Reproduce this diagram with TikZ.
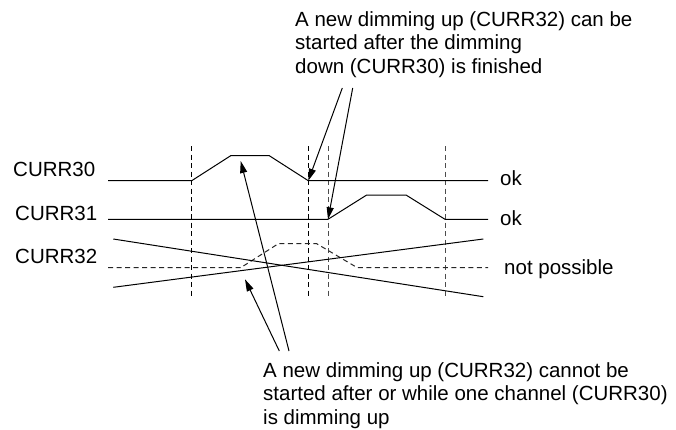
\documentclass[tikz,border=0pt]{standalone}
\usepackage{fontspec}
\setmainfont{Liberation Sans}
\usetikzlibrary{arrows.meta}
\begin{document}
\begin{tikzpicture}[x=1pt,y=-1pt,
  txt/.style={inner sep=0pt,anchor=base west,font=\fontsize{20.5}{23.5}\selectfont},
  sig/.style={line width=1pt,black},
  sigdash/.style={line width=1pt,black!85,dash pattern=on 5pt off 3.5pt},
  vmark/.style={line width=1pt,dash pattern=on 5pt off 3.5pt},
  pointer/.style={line width=1pt,-{Triangle[length=12pt,width=7pt]}}]
\useasboundingbox (0,0) rectangle (676,429);
% labels
\node[txt] (l30) at (13,176.7) {CURR30};
\node[txt] (l31) at (15,220.7) {CURR31};
\node[txt] (l32) at (15,263.3) {CURR32};
\node[txt] (ok1) at (500,185.7) {ok};
\node[txt] (ok2) at (500,225) {ok};
\node[txt] (np) at (504,274.3) {not possible};
\node[txt] (top) at (295,26) {\begin{tabular}[t]{@{}l@{}}A new dimming up (CURR32) can be\\started after the dimming\\down (CURR30) is finished\end{tabular}};
\node[txt] (bot) at (263,377) {\begin{tabular}[t]{@{}l@{}}A new dimming up (CURR32) cannot be\\started after or while one channel (CURR30)\\is dimming up\end{tabular}};
% vertical markers
\draw[vmark] (191.7,146) -- (191.7,297);
\draw[vmark] (308.3,146) -- (308.3,297);
\draw[vmark,black!70] (328,146) -- (328,297);
\draw[vmark,black!70] (445,146) -- (445,297);
% CURR30
\coordinate (e30) at (308.3,180.7);
\draw[sig] (108,180.7) -- (191.7,180.7) -- (230.7,155.7) -- (269.3,155.7) -- (e30) -- (488,180.7);
% CURR31
\coordinate (s31) at (328,219.3);
\draw[sig] (108,219.3) -- (s31) -- (366.7,195) -- (406,195) -- (445,219.3) -- (488,219.3);
% CURR32 dashed
\draw[sigdash] (108,267.7) -- (240.7,267.7) -- (278.3,243.7) -- (316.7,243.7) -- (357.3,267.7) -- (488,267.7);
% crossing lines
\draw[sig] (113.3,239) -- (483.3,296.7);
\draw[sig] (113.3,287.3) -- (483.3,239);
% arrows from top text
\coordinate (ta1) at (342.3,88);
\coordinate (ta2) at (352.7,88);
\draw[pointer] (ta1) -- (e30);
\draw[pointer] (ta2) -- (s31);
% arrows from bottom text
\coordinate (ba1) at (279.3,351);
\coordinate (ba2) at (289,351);
\coordinate (up30) at (240.7,161);
\coordinate (up32) at (245,279.3);
\draw[pointer] (ba1) -- (up32);
\draw[pointer] (ba2) -- (up30);
\end{tikzpicture}
\end{document}
